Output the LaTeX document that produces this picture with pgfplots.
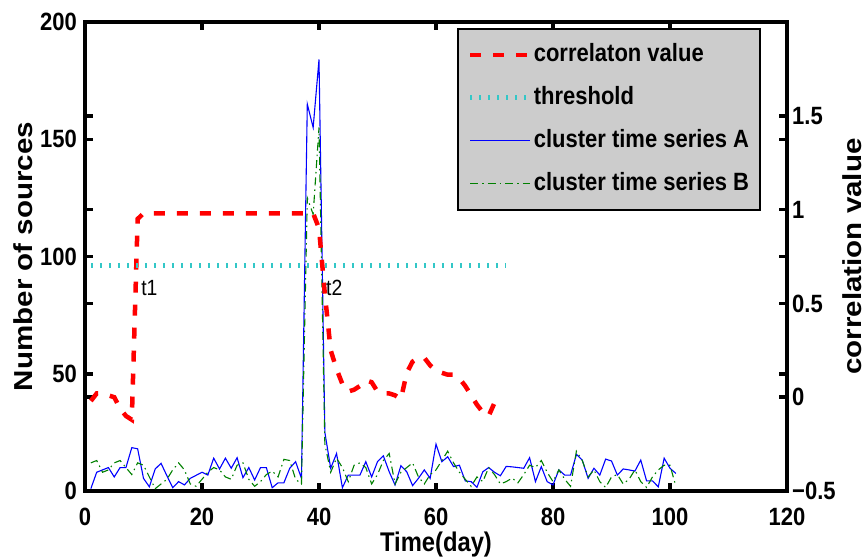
\documentclass[border=0pt]{standalone}
\usepackage{fontspec}
\setmainfont{Liberation Sans}[FakeStretch=0.88]
\newfontfamily\rotsans{Liberation Sans}[FakeStretch=1.136]
\usepackage{pgfplots}
\usepackage{pgfplotstable}
\pgfplotsset{compat=1.18}
\definecolor{cA}{rgb}{0,0,1}
\definecolor{cB}{rgb}{0,0.5,0}
\definecolor{cThr}{rgb}{0.2,0.78,0.78}
\definecolor{legfill}{gray}{0.8}
\pgfplotsset{
  legend image code/.code={\draw[#1] (0pt,0pt) -- (60pt,0pt);},
}

\pgfplotstableread{
t a b
1 1 12
2 8 13
3 9 8
4 10 9
5 6 12
6 10 13
7 10 10
8 18.5 7
9 18 12
10 5.4 11
11 1.8 6
12 9.4 1
13 11.8 3
14 6.5 5
15 1.4 9
16 4 12
17 2.6 9
18 5.4 3
19 6.7 2
20 8 5
21 6.8 8
22 14 10
23 9.4 9
24 14 6
25 9.7 5
26 14.2 11
27 5.7 12
28 10 5
29 4.7 2
30 10 4
31 10 7
32 1.4 8.5
33 3.5 6
34 3.5 13.5
35 9.7 13
36 12.5 5
37 5.4 3
38 165 125
39 155 118
40 184 155
41 25 20
42 9.7 8
43 16 14
44 1.4 10
45 6.8 4
46 6.8 11
47 6.8 12
48 12.5 10
49 6 3
50 12.5 7
51 15 13
52 8.2 16
53 2.6 3
54 10.8 8
55 8.2 10
56 2.3 12
57 5.4 6
58 9 3
59 5.4 7
60 20 9
61 12.5 13
62 14.6 17
63 10.4 12
64 11 8
65 4.3 5
66 4 2
67 1.6 6
68 8.2 4
69 10 10
70 8 7
71 6.5 3
72 10.5 4
73 10.3 5.5
74 10 3.5
75 9.7 7
76 14.2 11
77 4 10
78 10.4 13
79 4 8
80 2.6 4
81 9 9
82 6.8 5
83 6.8 2
84 15.6 17
85 13.2 13
86 5.4 6
87 9.7 9
88 6.8 4
89 13.6 1.5
90 12.8 6
91 6.8 7
92 9.4 3
93 9 5
94 8.5 9
95 13.2 4
96 4.3 1.5
97 4.3 6
98 1.8 9
99 14 11
100 9.7 11
101 7.5 2
}\clusterdata

\pgfplotstableread{
t c
1 -0.02
2 0.02
3 0.02
4 0.01
5 0.00
6 -0.06
7 -0.10
8 -0.12
9 0.95
10 0.98
20 0.98
30 0.98
39 0.98
40 0.90
41 0.55
42 0.25
43 0.15
44 0.07
45 0.03
46 0.04
47 0.06
48 0.09
49 0.08
50 0.03
51 0.02
52 0.02
53 0.01
54 -0.01
55 0.13
56 0.19
57 0.21
58 0.21
59 0.17
60 0.14
61 0.13
62 0.12
63 0.12
64 0.10
65 0.06
66 0.01
67 -0.04
68 -0.08
69 -0.10
70 -0.03
}\corrdata

\begin{document}
\begin{tikzpicture}
\path[use as bounding box] (0,0) rectangle (866pt,558pt);
\clip (0,0) rectangle (866pt,558pt);
\begin{axis}[
  at={(85pt,67pt)}, anchor=south west,
  scale only axis, width=702pt, height=469pt,
  xmin=0, xmax=120, ymin=0, ymax=200,
  xtick={0,20,...,120}, xticklabels={0,20,40,60,80,100,120},
  ytick={0,50,...,200}, yticklabels={0,50,100,150,200},
  tick align=inside,
  major tick length=8pt,
  every tick/.style={black, line width=3.5pt},
  axis line style={line width=4pt},
  ticklabel style={font=\fontsize{25}{30}\selectfont\bfseries, inner sep=0pt},
  xticklabel style={anchor=north, yshift=-17pt},
  yticklabel style={anchor=east, xshift=-8pt},
  ylabel={Number of sources},
  ylabel style={font=\rotsans\fontsize{26}{30}\selectfont\bfseries, at={(axis description cs:-0.0883,0.5)}, anchor=center},
  xlabel={Time(day)},
  xlabel style={font=\fontsize{27}{30}\selectfont\bfseries, at={(axis description cs:0.5,-0.128)}, anchor=base},
]
\addplot[cA, line width=1.1pt] table[x=t,y=a] {\clusterdata};
\addplot[cB, line width=1.1pt, dash pattern=on 8pt off 4pt on 1.5pt off 4pt] table[x=t,y=b] {\clusterdata};
\end{axis}
\begin{axis}[
  at={(85pt,67pt)}, anchor=south west,
  scale only axis, width=702pt, height=469pt,
  xmin=0, xmax=120, ymin=-0.5, ymax=2,
  hide x axis,
  ytick={-0.5,0,0.5,1,1.5}, yticklabels={−0.5,0,0.5,1,1.5},
  ytick pos=both, yticklabel pos=right,
  tick align=inside,
  major tick length=8pt,
  every tick/.style={black, line width=3.5pt},
  axis line style={line width=4pt},
  ticklabel style={font=\fontsize{25}{30}\selectfont\bfseries, inner sep=0pt},
  yticklabel style={anchor=west, xshift=5pt},
  ylabel={correlation value},
  ylabel style={font=\rotsans\fontsize{26}{30}\selectfont\bfseries, at={(axis description cs:1.0926,0.5)}, anchor=center, rotate=0},
  legend cell align=left,
  legend style={at={(0.530,0.987)}, anchor=north west, fill=legfill, draw=black, line width=1.5pt,
    font=\fontsize{25}{30}\selectfont\bfseries, inner xsep=10pt, inner ysep=13pt, row sep=17pt,
    nodes={inner sep=1pt, text height=19pt, text depth=5pt},
    /tikz/every even column/.append style={column sep=5pt},
    /tikz/every odd column/.append style={text width=222pt}},
]
\addplot[red, line width=4.5pt, dash pattern=on 11pt off 12pt] table[x=t,y=c] {\corrdata};
\addlegendentry{correlaton value}
\addplot[cThr, line width=5pt, dash pattern=on 2pt off 7pt] coordinates {(1,0.7) (72,0.7)};
\addlegendentry{threshold}
\addlegendimage{cA, line width=1.1pt}
\addlegendentry{cluster time series A}
\addlegendimage{cB, line width=1.1pt, dash pattern=on 8pt off 4pt on 1.5pt off 4pt}
\addlegendentry{cluster time series B}
\node[anchor=west, inner sep=0pt, font=\fontsize{22}{26}\selectfont] at (axis cs:9.6,0.58) {t1};
\node[anchor=west, inner sep=0pt, font=\fontsize{22}{26}\selectfont] at (axis cs:41.2,0.58) {t2};
\end{axis}
\end{tikzpicture}
\end{document}
